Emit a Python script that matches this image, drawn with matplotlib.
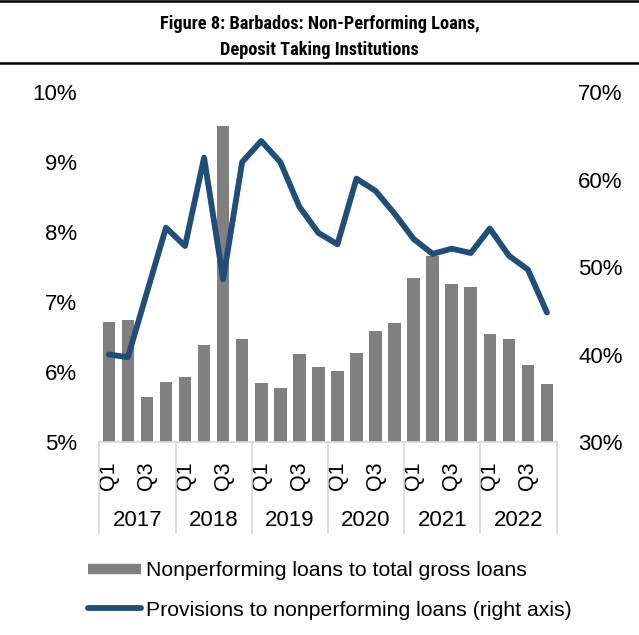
import matplotlib
matplotlib.use('Agg')
import matplotlib.pyplot as plt
from matplotlib import font_manager
from matplotlib.lines import Line2D
import numpy as np

plt.rcParams['font.family'] = ['Liberation Sans', 'DejaVu Sans']

years = ['2017', '2018', '2019', '2020', '2021', '2022']
quarter_labels = ['Q1', 'Q3']

# NPL ratio, % of total gross loans (left axis)
npl_ratio = [6.71, 6.74, 5.64, 5.86,
             5.93, 6.38, 9.52, 6.47,
             5.85, 5.77, 6.26, 6.07,
             6.02, 6.27, 6.58, 6.70,
             7.35, 7.66, 7.26, 7.22,
             6.55, 6.47, 6.10, 5.83]

# provisions to NPLs, % (right axis)
provisions = [40.0, 39.7, 47.1, 54.5,
              52.4, 62.5, 48.6, 62.0,
              64.4, 62.0, 56.9, 53.9,
              52.6, 60.1, 58.7, 56.1,
              53.2, 51.5, 52.1, 51.6,
              54.4, 51.3, 49.7, 44.8]

left_ticks = [5, 6, 7, 8, 9, 10]
right_ticks = [30, 40, 50, 60, 70]

bar_color = '#808080'
line_color = '#1f4e79'
sep_color = '#d9d9d9'

# narrow face for the title if one is around
installed = {f.name for f in font_manager.fontManager.ttflist}
title_size = 12
title_font = ['Liberation Sans', 'DejaVu Sans']
for name in ['Liberation Sans Narrow', 'Roboto Condensed', 'Open Sans Condensed',
             'DejaVu Sans Condensed']:
    if name in installed:
        title_font = [name] + title_font
        title_size = 13.2
        break

fig = plt.figure(figsize=(6.39, 6.35), dpi=100)
ax = fig.add_axes([0.1554, 0.3039, 0.7155, 0.5512])
ax2 = ax.twinx()

x = np.arange(len(npl_ratio))
ax.bar(x, npl_ratio, width=0.66, color=bar_color, zorder=2)
ax2.plot(x, provisions, color=line_color, lw=4.2,
         solid_joinstyle='round', solid_capstyle='round')

ax.set_xlim(-0.5, len(x) - 0.5)
ax.set_ylim(left_ticks[0], left_ticks[-1])
ax2.set_ylim(right_ticks[0], right_ticks[-1])

ax.set_yticks(left_ticks)
ax.set_yticklabels([f'{v}%' for v in left_ticks])
ax2.set_yticks(right_ticks)
ax2.set_yticklabels([f'{v}%' for v in right_ticks])
ax.tick_params(axis='y', length=0, pad=15.8, labelsize=16)
ax2.tick_params(axis='y', length=0, pad=15.5, labelsize=16)

# quarter labels every other bar
ax.set_xticks(x[::2])
ax.set_xticklabels(quarter_labels * len(years), rotation=90)
ax.tick_params(axis='x', length=0, pad=14, labelsize=15.5)

for a in (ax, ax2):
    for s in a.spines.values():
        s.set_visible(False)
ax.spines['bottom'].set_visible(True)
ax.spines['bottom'].set_color(sep_color)
ax.spines['bottom'].set_linewidth(1.2)

# year groups with separators below the axis
xt = ax.get_xaxis_transform()
for i, yr in enumerate(years):
    ax.text(4 * i + 1.5, -0.223, yr, transform=xt, ha='center', va='center',
            fontsize=16)
for b in np.arange(-0.5, len(x), 4):
    ax.plot([b, b], [0, -0.26], transform=xt, color=sep_color, lw=1.2,
            clip_on=False)

# title block between two rules
fig.text(0.5, 1 - 29 / 635, 'Figure 8: Barbados: Non-Performing Loans,',
         ha='center', va='baseline', fontsize=title_size, fontweight='bold',
         family=title_font)
fig.text(0.5, 1 - 55 / 635, 'Deposit Taking Institutions',
         ha='center', va='baseline', fontsize=title_size, fontweight='bold',
         family=title_font)
fig.add_artist(Line2D([0, 1], [1 - 1.2 / 635] * 2, transform=fig.transFigure,
                      color='black', lw=1.8))
fig.add_artist(Line2D([0, 1], [1 - 62.5 / 635] * 2, transform=fig.transFigure,
                      color='black', lw=1.8))

handles = [Line2D([], [], color=bar_color, lw=7.5, solid_capstyle='butt'),
           Line2D([], [], color=line_color, lw=4.2, solid_capstyle='round')]
labels = ['Nonperforming loans to total gross loans',
          'Provisions to nonperforming loans (right axis)']
fig.legend(handles, labels, loc='upper left', bbox_to_anchor=(88 / 639, 1 - 561 / 635),
           frameon=False, fontsize=15.3, handlelength=2.5, handletextpad=0.25,
           labelspacing=0.98, borderpad=0, borderaxespad=0)

fig.savefig('out.png', dpi=100)
